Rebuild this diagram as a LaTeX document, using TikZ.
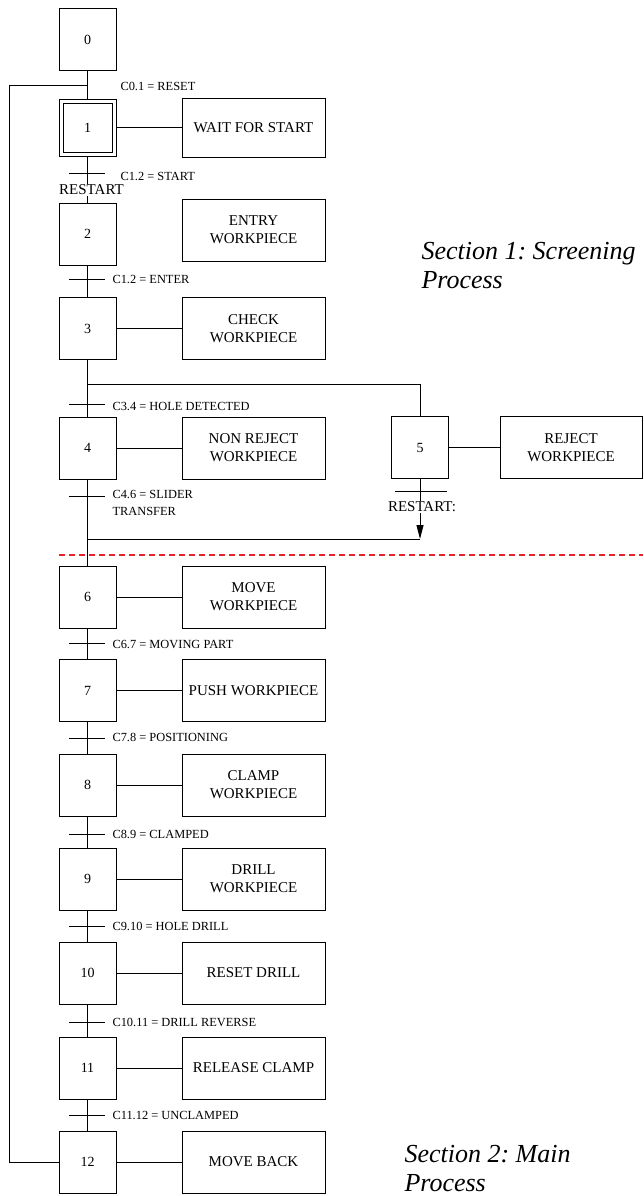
\documentclass[tikz,border=0pt]{standalone}
\usepackage{fontspec}
\setmainfont{Liberation Serif}
\usetikzlibrary{arrows.meta, calc, positioning}
\definecolor{sepred}{HTML}{E8202A}
\frenchspacing
\tikzset{
  stepbox/.style={draw, line width=1pt, minimum width=57pt, minimum height=62pt,
    inner sep=0pt, font=\fontsize{14}{16}\selectfont},
  actbox/.style={draw, line width=1pt, minimum width=143pt, minimum height=62pt,
    inner sep=0pt, align=center, font=\fontsize{15}{18}\selectfont},
  trlabel/.style={anchor=west, inner sep=0pt, align=left, font=\fontsize{12.4}{17}\selectfont},
  restartlabel/.style={inner sep=0.5pt, font=\fontsize{15}{17}\selectfont},
  secnote/.style={anchor=north west, inner sep=0pt, align=left,
    font=\fontsize{26}{29}\selectfont\itshape},
  link/.style={line width=1pt}}

\begin{document}
\begin{tikzpicture}[x=1pt, y=-1pt, link]
  \useasboundingbox (0,0) rectangle (643,1196);
  % initial steps
  \node[stepbox] (s0) at (87.5,40) {0};
  \node[stepbox, minimum height=57pt] (s1) at (87.5,128) {};
  \node[draw, line width=1pt, minimum width=49pt, minimum height=48pt, inner sep=0pt,
    font=\fontsize{14}{16}\selectfont] (s1in) at (s1.center) {1};
  \node[actbox, minimum height=58pt] (a1) at (253.5,128) {WAIT FOR START};
  \draw (s1) -- (a1);
  \node[stepbox] (s2) at (87.5,234) {2};
  \node[actbox] (a2) at (253.5,230) {ENTRY\\WORKPIECE};
  % main column
  \foreach \n/\y/\act in {3/328.5/{CHECK\\WORKPIECE}, 4/448/{NON REJECT\\WORKPIECE},
      6/597/{MOVE\\WORKPIECE}, 7/690.5/{PUSH WORKPIECE}, 8/785/{CLAMP\\WORKPIECE},
      9/879/{DRILL\\WORKPIECE}, 10/973/{RESET DRILL}, 11/1068/{RELEASE CLAMP},
      12/1162/{MOVE BACK}}
    {\node[stepbox] (s\n) at (87.5,\y) {\n};
     \node[actbox] (a\n) at (253.5,\y) {\act};
     \draw (s\n) -- (a\n);}
  \foreach \a/\b in {s0/s1, s2/s3, s3/s4, s4/s6, s6/s7, s7/s8, s8/s9, s9/s10, s10/s11, s11/s12}
    \draw (\a) -- (\b);
  % transitions
  \node[trlabel] (c01) at (120,86) {C0.1 = RESET};
  \draw (69,173) -- (105,173);
  \node[trlabel] (c12) at (120,176) {C1.2 = START};
  \node[restartlabel] (rst1) at (91.5,190) {RESTART};
  \draw (s1.south) -- (s1.south |- rst1.north);
  \draw (s2.north |- rst1.south) -- (s2.north);
  \foreach \t/\yb/\yl/\txt in {23/279/279/{C1.2 = ENTER}, 34/404/406/{C3.4 = HOLE DETECTED},
      46/496/502.5/{C4.6 = SLIDER\\TRANSFER}, 67/643/644/{C6.7 = MOVING PART},
      78/738/737/{C7.8 = POSITIONING}, 89/834/834/{C8.9 = CLAMPED},
      910/926/926/{C9.10 = HOLE DRILL}, 1011/1022/1022/{C10.11 = DRILL REVERSE},
      1112/1115/1115/{C11.12 = UNCLAMPED}}
    {\draw (69,\yb) -- (105,\yb);
     \node[trlabel] (c\t) at (112,\yl) {\txt};}
  % reject branch
  \node[stepbox] (s5) at (420,447.5) {5};
  \node[actbox, minimum width=142pt] (a5) at (571,447.5) {REJECT\\WORKPIECE};
  \draw (s5) -- (a5);
  \coordinate (br) at (87.5,384);
  \draw (br) -| (s5.north);
  \draw (395,491) -- (447,491);
  \node[restartlabel] (rst5) at (422,507) {RESTART:};
  \coordinate (mg) at (87.5,539);
  \coordinate (mg5) at (420,539);
  \draw (s5.south) -- (s5.south |- rst5.north);
  \draw[-{Triangle[length=14pt, width=7pt]}] (s5.south |- rst5.south) -- (mg5);
  \draw (mg) -- (mg5);
  % loop back and section split
  \coordinate (j0) at (87.5,86);
  \coordinate (loop) at (9,86);
  \draw (s12.west) -| (loop) -- (j0);
  \coordinate (sepL) at (59,555);
  \coordinate (sepR) at (643,555);
  \draw[draw=sepred, line width=1.2pt, dash pattern=on 6pt off 4pt] (sepL) -- (sepR);
  \node[secnote] (sec1) at (421,242) {Section 1: Screening\\Process};
  \node[secnote] (sec2) at (404,1145) {Section 2: Main\\Process};
\end{tikzpicture}
\end{document}
